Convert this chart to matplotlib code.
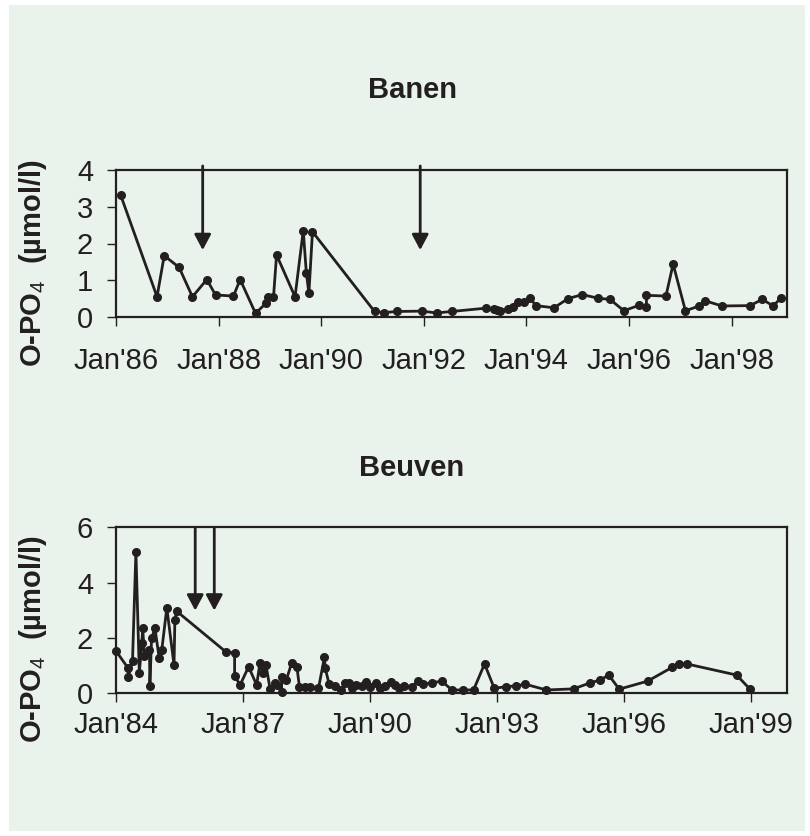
import matplotlib
matplotlib.use('Agg')
import matplotlib.pyplot as plt
from matplotlib.patches import Rectangle

plt.rcParams['font.family'] = ['Liberation Sans', 'DejaVu Sans']
plt.rcParams['mathtext.fontset'] = 'custom'
plt.rcParams['mathtext.rm'] = 'Liberation Sans'
plt.rcParams['mathtext.bf'] = 'Liberation Sans:bold'

INK = '#231f20'
BG = '#e9f3eb'

# Banen: decimal year, O-PO4 (umol/l)
banen_year = [1986.09, 1986.80, 1986.94, 1987.23, 1987.49, 1987.77, 1987.94,
              1988.29, 1988.42, 1988.72, 1988.92, 1988.97, 1989.07, 1989.13,
              1989.49, 1989.65, 1989.71, 1989.76, 1989.83, 1991.04, 1991.22,
              1991.48, 1991.96, 1992.25, 1992.54, 1993.21, 1993.37, 1993.42,
              1993.48, 1993.65, 1993.74, 1993.84, 1993.96, 1994.07, 1994.18,
              1994.54, 1994.81, 1995.09, 1995.40, 1995.63, 1995.90, 1996.20,
              1996.34, 1996.34, 1996.72, 1996.86, 1997.10, 1997.37, 1997.49,
              1997.81, 1998.36, 1998.60, 1998.81, 1998.97]
banen_po4 = [3.32, 0.55, 1.67, 1.35, 0.55, 1.02, 0.60,
             0.57, 1.02, 0.10, 0.37, 0.55, 0.54, 1.69,
             0.55, 2.35, 1.21, 0.64, 2.32, 0.15, 0.12,
             0.15, 0.16, 0.11, 0.15, 0.24, 0.21, 0.19,
             0.17, 0.21, 0.26, 0.42, 0.40, 0.53, 0.31,
             0.25, 0.50, 0.61, 0.51, 0.48, 0.17, 0.32,
             0.26, 0.59, 0.57, 1.44, 0.17, 0.30, 0.44,
             0.30, 0.31, 0.48, 0.30, 0.53]
banen_arrows = [1987.69, 1991.93]

# Beuven
beuven_year = [1984.00, 1984.29, 1984.29, 1984.39, 1984.47, 1984.55, 1984.61,
               1984.63, 1984.67, 1984.79, 1984.80, 1984.84, 1984.92, 1985.02,
               1985.08, 1985.20, 1985.37, 1985.39, 1985.43, 1986.60, 1986.80,
               1986.80, 1986.93, 1987.13, 1987.32, 1987.40, 1987.47, 1987.54,
               1987.64, 1987.76, 1987.81, 1987.91, 1987.91, 1988.02, 1988.15,
               1988.27, 1988.33, 1988.47, 1988.58, 1988.78, 1988.92, 1988.94,
               1989.03, 1989.17, 1989.31, 1989.41, 1989.49, 1989.57, 1989.67,
               1989.80, 1989.91, 1990.00, 1990.14, 1990.24, 1990.35, 1990.49,
               1990.59, 1990.67, 1990.81, 1990.98, 1991.13, 1991.24, 1991.46,
               1991.69, 1991.93, 1992.19, 1992.44, 1992.70, 1992.93, 1993.21,
               1993.45, 1993.66, 1994.16, 1994.80, 1995.20, 1995.43, 1995.63,
               1995.88, 1996.55, 1997.13, 1997.28, 1997.48, 1998.65, 1998.96]
beuven_po4 = [1.53, 0.90, 0.60, 1.18, 5.12, 0.75, 1.81,
              2.37, 1.35, 1.56, 0.27, 1.99, 2.35, 1.26,
              1.56, 3.09, 1.02, 2.65, 2.97, 1.49, 1.47,
              0.63, 0.30, 0.96, 0.30, 1.11, 0.72, 1.02,
              0.14, 0.36, 0.30, 0.04, 0.60, 0.48, 1.11,
              0.96, 0.24, 0.24, 0.24, 0.18, 1.30, 0.90,
              0.34, 0.26, 0.12, 0.36, 0.36, 0.18, 0.30,
              0.26, 0.40, 0.24, 0.36, 0.18, 0.27, 0.42,
              0.30, 0.18, 0.27, 0.24, 0.44, 0.33, 0.38,
              0.44, 0.12, 0.12, 0.12, 1.06, 0.18, 0.24,
              0.27, 0.33, 0.12, 0.16, 0.38, 0.48, 0.66,
              0.15, 0.44, 0.94, 1.06, 1.06, 0.66, 0.16]
beuven_arrows = [1985.87, 1986.32]

banen_ticks = [1986, 1988, 1990, 1992, 1994, 1996, 1998]
beuven_ticks = [1984, 1987, 1990, 1993, 1996, 1999]

fig = plt.figure(figsize=(8.1, 8.36), dpi=100)
fig.patch.set_facecolor('white')
fig.patches.append(Rectangle((9 / 810, 1 - 831 / 836), 796 / 810, 826 / 836,
                             transform=fig.transFigure, facecolor=BG,
                             edgecolor='none', zorder=-10))


def style_axes(ax, ticks, yticks, xpad):
    ax.set_facecolor('none')
    for s in ax.spines.values():
        s.set_linewidth(1.6)
        s.set_color(INK)
    ax.set_xticks(ticks)
    ax.set_xticklabels(["Jan'%02d" % (t % 100) for t in ticks])
    ax.set_yticks(yticks)
    ax.tick_params(direction='out', length=6.5, width=1.0, color=INK,
                   labelsize=21, labelcolor=INK)
    ax.tick_params(axis='x', pad=xpad)
    ax.tick_params(axis='y', pad=10)


def draw(ax, x, y, arrows, tip, top):
    ax.plot(x, y, '-o', color=INK, lw=2, ms=5.5, clip_on=False, zorder=3)
    for a in arrows:
        ax.annotate('', xy=(a, tip), xytext=(a, top),
                    arrowprops=dict(arrowstyle='-|>,head_length=0.47,head_width=0.25',
                                    mutation_scale=20, lw=2, color=INK,
                                    shrinkA=0, shrinkB=0),
                    annotation_clip=False)


ax1 = fig.add_axes([116 / 810, 1 - 317 / 836, 671 / 810, 147 / 836])
draw(ax1, banen_year, banen_po4, banen_arrows, 1.82, 4.11)
ax1.set_xlim(1986.0, 1999.08)
ax1.set_ylim(0, 4)
style_axes(ax1, banen_ticks, [0, 1, 2, 3, 4], 15)

ax2 = fig.add_axes([116 / 810, 1 - 693.3 / 836, 671 / 810, 166 / 836])
draw(ax2, beuven_year, beuven_po4, beuven_arrows, 2.99, 6.0)
ax2.set_xlim(1984.0, 1999.84)
ax2.set_ylim(0, 6)
style_axes(ax2, beuven_ticks, [0, 2, 4, 6], 6)

fig.text(412 / 810, 1 - 98 / 836, 'Banen', ha='center', va='baseline',
         fontsize=21, fontweight='bold', color=INK)
fig.text(412 / 810, 1 - 476 / 836, 'Beuven', ha='center', va='baseline',
         fontsize=21, fontweight='bold', color=INK)

ylab = r'O-PO$_{\mathrm{4}}$  (µmol/l)'
fig.text(33 / 810, 1 - 263 / 836, ylab, rotation=90, ha='center', va='center',
         fontsize=21, fontweight='bold', color=INK)
fig.text(33 / 810, 1 - 639 / 836, ylab, rotation=90, ha='center', va='center',
         fontsize=21, fontweight='bold', color=INK)

fig.savefig('out.png', dpi=100, facecolor=fig.get_facecolor())
